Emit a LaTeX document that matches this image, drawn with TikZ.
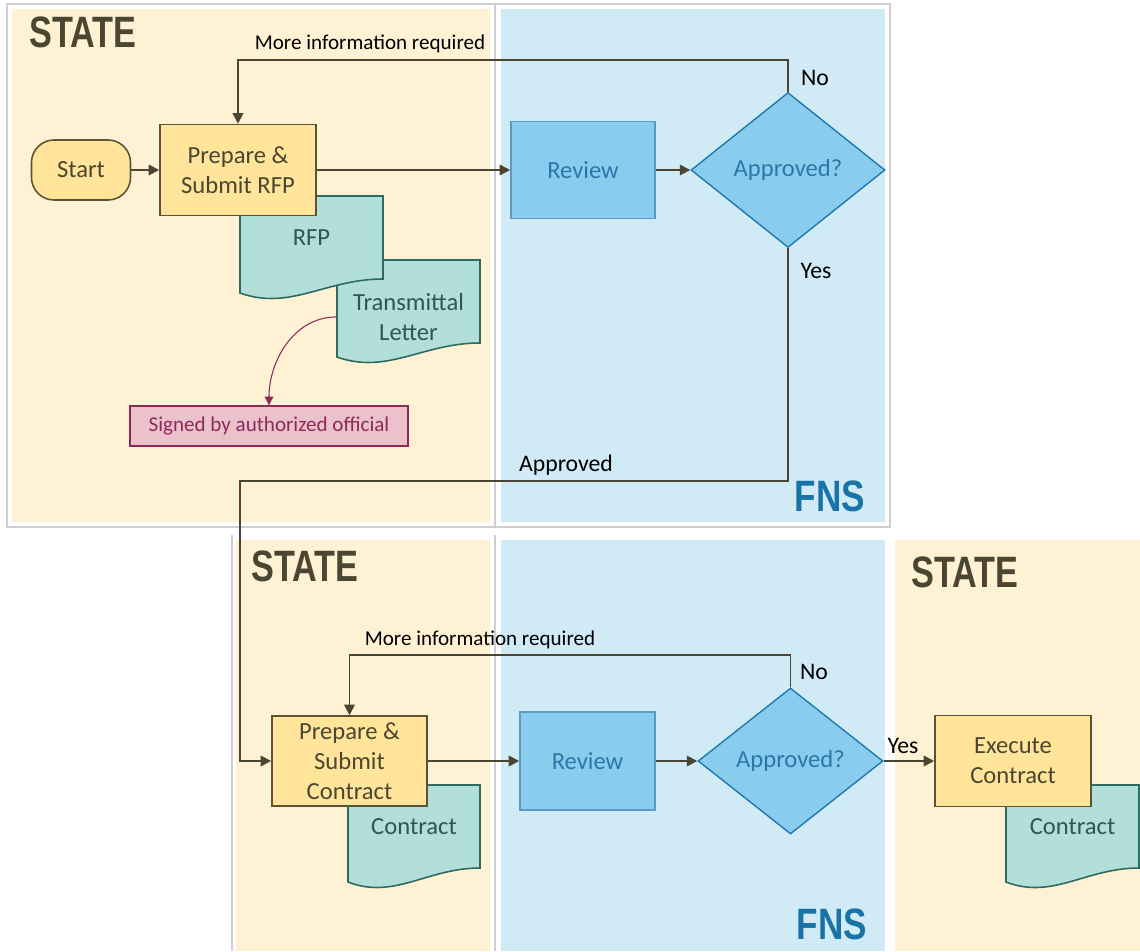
\documentclass[tikz,border=0pt]{standalone}
\usepackage{fontspec}
\usepackage{graphicx}
\setmainfont{Carlito}
\newfontfamily\headfont{Liberation Sans}
\usetikzlibrary{arrows.meta, positioning, shapes.geometric}

\definecolor{statebg}{HTML}{FFF2D4}
\definecolor{fnsbg}{HTML}{D0EAF6}
\definecolor{framegray}{HTML}{CFCFCF}
\definecolor{olive}{HTML}{4B4632}
\definecolor{procfill}{HTML}{FFE499}
\definecolor{procline}{HTML}{5B5336}
\definecolor{revfill}{HTML}{89CCEE}
\definecolor{revline}{HTML}{5B9BC2}
\definecolor{decline}{HTML}{1F7AAE}
\definecolor{bluetext}{HTML}{2A78A8}
\definecolor{fnstext}{HTML}{1A73A6}
\definecolor{docfill}{HTML}{B2DFDA}
\definecolor{docline}{HTML}{2D6B60}
\definecolor{doctext}{HTML}{2B5850}
\definecolor{signfill}{HTML}{EBC2CC}
\definecolor{signline}{HTML}{8E2A5A}

\def\px{0.02cm}
\newcommand{\bodyfont}{\fontsize{14}{17}\selectfont}
\newcommand{\headtext}[2]{\scalebox{#1}[1]{#2}}
\newcommand{\docshape}[6]{%
% #1 = name, #2 = left, #3 = top, #4 = width, #5 = height, #6 = text
\filldraw[docpaper]
(#2,#3) -- ({#2+#4},#3) -- ({#2+#4},{#3+#5-14})
.. controls ({#2+0.6*#4},{#3+#5-14}) and ({#2+0.35*#4},{#3+#5+18}) .. (#2,{#3+#5})
-- cycle;
\node[doclabel, minimum width={#4*\px}, anchor=north] (#1) at ({#2+#4/2},{#3+33}) {#6};
}

\begin{document}
\begin{tikzpicture}[
    x=\px, y=-\px,
    flow/.style={draw=olive, line width=1.1pt, -{Triangle[length=6pt,width=6pt]}},
    signflow/.style={draw=signline, line width=0.6pt, -{Triangle[length=5pt,width=5pt]}},
    proc/.style={rectangle, draw=procline, fill=procfill, line width=0.9pt,
        text=olive, align=center, font=\bodyfont, inner sep=0pt},
    term/.style={proc, rounded corners=0.45cm},
    review/.style={rectangle, draw=revline, fill=revfill, line width=0.9pt,
        text=bluetext, font=\bodyfont, inner sep=0pt},
    decision/.style={diamond, draw=decline, fill=revfill, line width=0.8pt,
        text=bluetext, font=\bodyfont, inner sep=0pt},
    docpaper/.style={draw=docline, fill=docfill, line width=0.9pt},
    doclabel/.style={text=doctext, align=center, font=\bodyfont, inner sep=0pt},
    sign/.style={rectangle, draw=signline, fill=signfill, line width=0.8pt,
        text=signline, font=\fontsize{12}{14}\selectfont, inner sep=0pt},
    lbl/.style={text=black, font=\fontsize{13.5}{16}\selectfont, inner sep=0pt},
    statehead/.style={text=olive, font=\headfont\bfseries\fontsize{25}{25}\selectfont, inner sep=0pt},
    fnshead/.style={text=fnstext, font=\headfont\bfseries\fontsize{25}{25}\selectfont, inner sep=0pt},
    framegrid/.style={draw=framegray, line width=0.7pt}
]
\useasboundingbox (0,0) rectangle (1140,951);

% lanes
\fill[statebg] (12,9) rectangle (490,522);
\fill[fnsbg] (501,9) rectangle (885,522);
\draw[framegrid] (7,4) rectangle (890,527);
\draw[framegrid] (495,4) -- (495,527);
\fill[statebg] (236,540) rectangle (490,951);
\fill[fnsbg] (501,540) rectangle (885,951);
\fill[statebg] (895,540) rectangle (1140,951);
\draw[framegrid] (232,535) -- (232,951);
\draw[framegrid] (495,535) -- (495,951);

\node[statehead] (state1) at (83,32) {\headtext{0.78}{STATE}};
\node[fnshead] (fns1) at (830,496) {\headtext{0.8}{FNS}};
\node[statehead] (state2) at (305,566) {\headtext{0.78}{STATE}};
\node[fnshead] (fns2) at (832,924) {\headtext{0.8}{FNS}};
\node[statehead] (state3) at (965,572) {\headtext{0.78}{STATE}};

% RFP round
\docshape{letter}{337}{260}{143}{97}{Transmittal\\Letter}
\docshape{rfp}{240}{196}{143}{97}{RFP}
\node[term, minimum width={99*\px}, minimum height={60*\px}] (start) at (81,170) {Start};
\node[proc, minimum width={156*\px}, minimum height={91*\px}] (prep1) at (238,170) {Prepare \&\\Submit RFP};
\node[sign, minimum width={278*\px}, minimum height={40*\px}] (sig) at (269,426) {Signed by authorized official};
\node[review, minimum width={144*\px}, minimum height={97*\px}] (rev1) at (583,170) {Review};
\node[decision, minimum width={194*\px}, minimum height={155*\px}] (ap1) at (788,170) {Approved?};

% contract round
\docshape{contract1}{348}{785}{132}{97}{Contract}
\node[proc, minimum width={155*\px}, minimum height={90*\px}] (prep2) at (349.5,761) {Prepare \&\\Submit\\Contract};
\node[review, minimum width={135*\px}, minimum height={98*\px}] (rev2) at (587.5,761) {Review};
\node[decision, minimum width={185*\px}, minimum height={146*\px}] (ap2) at (790.5,761) {Approved?};
\docshape{contract2}{1006}{785}{133}{97}{Contract}
\node[proc, minimum width={156*\px}, minimum height={91*\px}] (exec) at (1013,761) {Execute\\Contract};

\coordinate (turn) at (240,481);
\draw[flow] (start) -- (prep1);
\draw[flow] (prep1) -- (rev1);
\draw[flow] (rev1) -- (ap1);
\draw[flow] (ap1.north) -- ++(0,-32) -| (prep1.north);
\draw[flow] (ap1.south) |- (turn) |- (prep2.west);
\draw[signflow] (letter.west) to[out=180,in=90] (sig.north);
\draw[flow] (prep2) -- (rev2);
\draw[flow] (rev2) -- (ap2);
\draw[flow] (ap2.north) -- ++(0,-32) -| (prep2.north);
\draw[flow] (ap2) -- (exec);

\node[lbl, font=\fontsize{12}{14}\selectfont] (more1) at (370,44) {More information required};
\node[lbl] (no1) at (815,78) {No};
\node[lbl] (yes1) at (816,271) {Yes};
\node[lbl] (okay) at (566,465) {Approved};
\node[lbl, font=\fontsize{12}{14}\selectfont] (more2) at (480,640) {More information required};
\node[lbl] (no2) at (814,672) {No};
\node[lbl] (yes2) at (903,746) {Yes};
\end{tikzpicture}
\end{document}
